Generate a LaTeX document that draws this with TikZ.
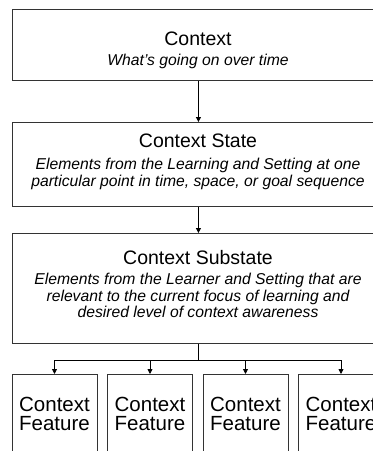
\documentclass[tikz,border=0pt]{standalone}
\usepackage{fontspec}
\setmainfont{Liberation Sans}
\usetikzlibrary{arrows.meta}
\begin{document}
\begin{tikzpicture}[x=1pt,y=1pt,
  box/.style={draw=black!80, line width=0.9pt, inner sep=0pt, anchor=north west},
  ttl/.style={font=\fontsize{19.5}{22}\selectfont, inner sep=0pt, anchor=mid},
  subt/.style={font=\fontsize{15.7}{16.5}\selectfont\itshape, inner sep=0pt, anchor=mid},
  feat/.style={draw=black!80, line width=0.9pt, minimum width=85pt, minimum height=100pt, anchor=north},
  ftxt/.style={font=\fontsize{20.5}{22}\selectfont, inner sep=0pt, anchor=mid},
  arr/.style={draw=black, line width=0.8pt, -{Triangle[length=5pt,width=5pt]}}]
\useasboundingbox (0,0) rectangle (373,-451);
\clip (0,0) rectangle (373,-451);
% boxes
\node[box, minimum width=372pt, minimum height=71pt] (ctx) at (12,-9) {};
\node[box, minimum width=372pt, minimum height=84pt] (st) at (12,-122) {};
\node[box, minimum width=372pt, minimum height=110pt] (sub) at (12,-233) {};
\node[feat] (f1) at (54.5,-374) {};
\node[feat] (f2) at (150,-374) {};
\node[feat] (f3) at (245.5,-374) {};
\node[feat] (f4) at (341,-374) {};
% texts
\node[ttl] (ctxT) at (198,-42.5) {Context};
\node[subt] (ctxS) at (198,-63) {What’s going on over time};
\node[ttl] (stT) at (198,-144.5) {Context State};
\node[subt] (stS1) at (198,-167) {Elements from the Learning and Setting at one};
\node[subt] (stS2) at (198,-184) {particular point in time, space, or goal sequence};
\node[ttl] (subT) at (198,-261.5) {Context Substate};
\node[subt] (subS1) at (198,-282) {Elements from the Learner and Setting that are};
\node[subt] (subS2) at (198,-299) {relevant to the current focus of learning and};
\node[subt] (subS3) at (198,-315) {desired level of context awareness};
\foreach \i/\x in {1/54.5,2/150,3/245.5,4/341}{
  \node[ftxt] (fa\i) at (\x,-409) {Context};
  \node[ftxt] (fb\i) at (\x,-427.5) {Feature};
}
% connectors
\draw[arr] (ctx.south) -- (st.north);
\draw[arr] (st.south) -- (sub.north);
\coordinate (br) at ([yshift=-16pt]sub.south);
\draw[line width=0.8pt] (sub.south) -- (br);
\draw[arr] (br) -| (f1.north);
\draw[arr] (br) -| (f2.north);
\draw[arr] (br) -| (f3.north);
\draw[arr] (br) -| (f4.north);
\end{tikzpicture}
\end{document}
